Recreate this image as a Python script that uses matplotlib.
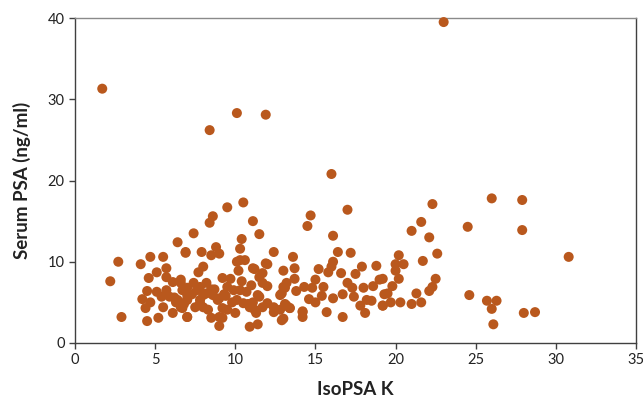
import matplotlib
matplotlib.use("Agg")
import matplotlib.pyplot as plt

plt.rcParams['font.family'] = ['Lato', 'DejaVu Sans']

# IsoPSA K values (x) and Serum PSA (y)
isopsa_k = [
    1.7, 8.4, 10.1, 11.9, 23.0, 16.0,
    26.0, 27.9, 24.5, 27.9, 30.8,
    24.6, 25.7, 26.3, 26.0, 26.1, 28.0, 28.7,
    22.3, 21.6, 21.0, 22.1, 22.6, 21.7, 20.2, 20.0, 20.5, 20.0, 20.2, 19.2,
    19.8, 22.5, 22.3, 22.1, 19.3, 21.3, 19.2, 19.7, 20.3, 21.0, 21.6,
    17.0, 14.7, 14.5, 16.1, 16.4, 17.2, 13.6, 16.1, 16.0, 15.8, 15.2, 16.6,
    17.5, 17.9, 18.8, 13.0, 13.7, 13.7, 13.2, 15.0, 14.3, 14.8, 15.5, 17.0,
    17.3, 18.0, 18.6, 19.0, 13.8, 13.0, 16.7, 17.4, 16.1, 15.4, 14.6, 15.0,
    18.2, 18.5, 17.8, 19.2, 13.2, 13.4, 14.2, 14.2, 15.7, 16.7, 18.1, 13.0,
    19.5,
    9.5, 10.5, 8.6, 8.4, 11.1, 7.4, 11.5, 10.4, 8.8, 9.0, 8.5, 7.9, 6.9,
    10.3, 10.3, 10.6, 10.1, 12.4, 12.0, 11.2, 11.7, 10.2, 8.0, 7.7, 9.2,
    9.7, 10.4, 11.5, 12.0, 7.4, 8.2, 7.0, 7.8, 9.9, 10.7, 11.4, 8.6, 9.0,
    7.0, 7.8, 9.8, 10.5, 11.1, 12.0, 12.8, 13.1, 6.7, 7.5, 8.3, 9.2, 10.0,
    11.2, 11.7, 12.4, 7.0, 8.5, 9.2, 9.0, 10.9, 11.4, 12.8, 13.1, 9.5, 8.0,
    11.7, 11.0, 6.6,
    2.7, 2.2, 2.9, 4.1, 4.7, 5.5, 6.4, 6.9, 5.1, 4.6, 5.7, 5.7, 6.1,
    6.6, 4.5, 5.1, 4.2, 4.7, 5.4, 4.4, 5.9, 5.5, 6.1, 6.6, 6.7, 4.5, 5.2,
    7.0, 7.0,
    5.7, 6.4, 7.0, 7.6, 8.2, 8.0, 8.9, 9.5, 10.1, 10.3, 10.9, 11.3, 9.0,
    11.9, 11.1, 11.5, 12.4, 12.9, 14.2, 12.9, 13.4, 6.2, 8.7, 9.4, 10.8,
    6.3, 6.8, 7.3, 8.5, 9.3, 7.8,
]
serum_psa = [
    31.3, 26.2, 28.3, 28.1, 39.5, 20.8,
    17.8, 17.6, 14.3, 13.9, 10.6,
    5.9, 5.2, 5.2, 4.2, 2.3, 3.7, 3.8,
    17.1, 14.9, 13.8, 13.0, 11.0, 10.1, 10.8, 9.7, 9.7, 8.9, 7.9, 7.9,
    7.0, 7.9, 6.9, 6.4, 6.0, 6.1, 4.6, 5.0, 5.0, 4.8, 5.0,
    16.4, 15.7, 14.4, 13.2, 11.2, 11.1, 10.6, 10.0, 9.4, 8.7, 9.1, 8.6,
    8.5, 9.4, 9.5, 8.9, 9.2, 7.9, 7.4, 7.8, 6.9, 6.8, 6.9, 7.4,
    6.8, 6.8, 7.0, 7.8, 6.4, 6.9, 6.0, 5.7, 5.5, 5.8, 5.4, 5.0,
    5.3, 5.2, 4.6, 4.6, 4.6, 4.3, 3.9, 3.2, 3.8, 3.2, 3.7, 3.0,
    6.1,
    16.7, 17.3, 15.6, 14.8, 15.0, 13.5, 13.4, 12.8, 11.8, 11.0, 10.8, 11.2, 11.2,
    11.6, 10.2, 10.2, 10.0, 11.2, 9.7, 9.1, 8.6, 8.9, 9.4, 8.7, 8.0,
    7.9, 7.6, 8.1, 7.0, 7.4, 7.4, 6.8, 6.9, 6.5, 6.3, 5.9, 5.9, 5.5,
    5.4, 5.3, 5.0, 4.9, 5.0, 4.9, 5.9, 6.8, 4.3, 4.4, 4.1, 4.3, 3.7,
    4.1, 4.4, 3.8, 3.2, 3.1, 3.1, 2.1, 2.0, 2.3, 4.1, 4.8, 6.9, 5.9,
    7.4, 7.1, 7.8,
    10.0, 7.6, 3.2, 9.7, 10.6, 10.6, 12.4, 11.1, 8.7, 8.0, 9.2, 8.1, 7.5,
    7.4, 6.4, 6.3, 5.4, 5.0, 5.7, 4.3, 5.7, 4.4, 3.7, 4.4, 6.5, 2.7, 3.1,
    5.3, 3.2,
    6.5, 5.3, 5.9, 6.5, 6.1, 4.4, 5.3, 4.1, 5.3, 6.5, 4.4, 3.7, 3.2,
    9.8, 9.2, 5.7, 4.4, 2.8, 3.8, 6.1, 4.3, 5.6, 6.6, 5.8, 4.8,
    5.0, 4.8, 6.0, 6.6, 6.0, 4.9,
]

x_ticks = [0, 5, 10, 15, 20, 25, 30, 35]
y_ticks = [0, 10, 20, 30, 40]

fig = plt.figure(figsize=(6.43, 4.03), dpi=100)
ax = fig.add_axes([75/643, 1 - 343/403, (636 - 75)/643, (343 - 18)/403])

ax.scatter(isopsa_k, serum_psa, s=52, color="#B9581D", edgecolors="none", zorder=3, clip_on=False)

ax.set_xlim(0, 35)
ax.set_ylim(0, 40)
ax.set_xticks(x_ticks)
ax.set_yticks(y_ticks)
ax.tick_params(direction='out', length=4, width=1, colors='#404040', labelsize=10.5,
               labelcolor='#222222')

for side in ['left', 'bottom', 'right']:
    ax.spines[side].set_color('#404040')
    ax.spines[side].set_linewidth(1.0)
ax.spines['top'].set_color('#8a8a8a')
ax.spines['top'].set_linewidth(1.0)

ax.set_xlabel('IsoPSA K', fontsize=13.5, fontweight='bold', color='#222222', labelpad=10)
ax.set_ylabel('Serum PSA (ng/ml)', fontsize=13.5, fontweight='bold', color='#222222', labelpad=12)

fig.savefig('out.png', dpi=100)
